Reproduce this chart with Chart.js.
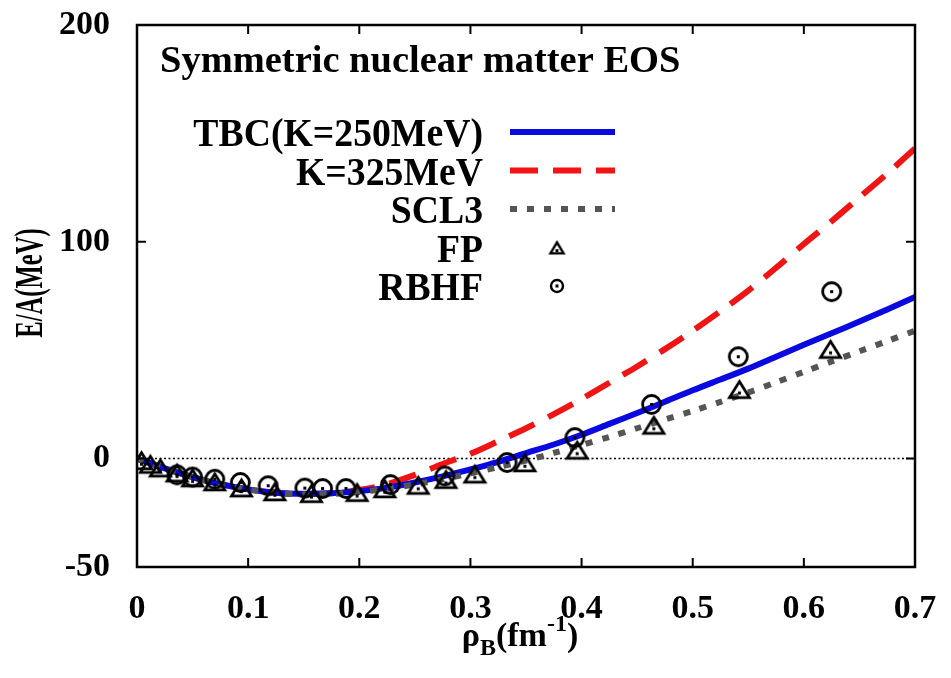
<!DOCTYPE html>
<html>
<head>
<meta charset="utf-8">
<script src="https://cdn.jsdelivr.net/npm/chart.js@4"></script>
<style>
  html, body { margin: 0; padding: 0; background: #fff; }
  canvas { display: block; }
</style>
</head>
<body>
<canvas id="eosChart" width="951" height="678"></canvas>
<script>
// density grid for the curves (fm^-3 really, axis says fm^-1)
const rho = [0, 0.025, 0.05, 0.075, 0.1, 0.125, 0.15, 0.175, 0.2, 0.225, 0.25, 0.275, 0.3, 0.325, 0.35,
  0.375, 0.4, 0.425, 0.45, 0.475, 0.5, 0.525, 0.55, 0.575, 0.6, 0.625, 0.65, 0.675, 0.7];

const tbc250 = [0, -4.5, -8.5, -11.8, -14.2, -15.7, -16.2, -16, -15, -13.4, -11, -8.2, -5, -1.5, 2.5,
  6.5, 11, 16, 21, 26.2, 31.5, 36.5, 41.5, 47, 52.5, 57.8, 63.2, 68.8, 74.5];

const k325 = [0, -4.5, -8.5, -11.8, -14.2, -15.8, -16.4, -16, -14.5, -11.8, -7.5, -2.5, 2.2, 8, 14,
  20.5, 27.5, 35, 42.5, 50.5, 59, 68, 77.5, 88, 99, 109.5, 120.5, 131.5, 143];

const scl3 = [0, -4.5, -8.5, -11.8, -14.3, -15.9, -16.5, -16.3, -15.4, -13.9, -11.9, -9.5, -6.8, -3.9, -0.9,
  2.6, 6.3, 10, 14, 18, 22, 26.2, 30.5, 35.2, 40, 44.8, 49.5, 54.2, 59];

const fpRho = [0.004, 0.012, 0.021, 0.036, 0.05, 0.07, 0.094, 0.124, 0.157, 0.198, 0.223, 0.253,
  0.278, 0.304, 0.349, 0.396, 0.465, 0.542, 0.624];
const fpE = [-0.8, -2.5, -4.2, -6.5, -8.8, -10.6, -13.4, -15.2, -16, -15.5, -13.8, -12.2,
  -9.5, -7, -1.8, 4, 15.5, 32, 50.5];

const rbhfRho = [0.036, 0.05, 0.07, 0.093, 0.118, 0.151, 0.167, 0.188, 0.228, 0.277, 0.333, 0.394,
  0.463, 0.541, 0.625];
const rbhfE = [-7.5, -8.5, -9.5, -11, -12.5, -13.6, -13.8, -13.8, -12, -8, -1.8, 9.7, 25, 47, 77];

const xTicks = [0, 0.1, 0.2, 0.3, 0.4, 0.5, 0.6, 0.7];
const yTicks = [-50, 0, 100, 200];

const SERIF = '"Liberation Serif", "Times New Roman", serif';

function pts(xs, ys) {
  return xs.map((x, i) => ({ x: x, y: ys[i] }));
}

function triangleImg(w, h, lw) {
  const c = document.createElement('canvas');
  c.width = w + lw * 2 + 2;
  c.height = h + lw * 2 + 2;
  const g = c.getContext('2d');
  const cx = c.width / 2, top = lw + 1, bot = top + h;
  g.lineWidth = lw;
  g.lineJoin = 'miter';
  g.strokeStyle = '#000';
  g.beginPath();
  g.moveTo(cx, top);
  g.lineTo(cx + w / 2, bot);
  g.lineTo(cx - w / 2, bot);
  g.closePath();
  g.stroke();
  g.fillStyle = '#000';
  g.fillRect(cx - 1.5, top + h * 0.62, 3, 3);
  return c;
}

function circleImg(d, lw) {
  const c = document.createElement('canvas');
  c.width = d + lw * 2 + 2;
  c.height = c.width;
  const g = c.getContext('2d');
  const m = c.width / 2;
  g.lineWidth = lw;
  g.strokeStyle = '#000';
  g.beginPath();
  g.arc(m, m, d / 2, 0, Math.PI * 2);
  g.stroke();
  g.fillStyle = '#000';
  g.fillRect(m - 1.5, m - 1.5, 3, 3);
  return c;
}

const triBig = triangleImg(20, 16, 2.8);
const circBig = circleImg(18, 2.8);
const triSmall = triangleImg(13, 11, 2.4);
const circSmall = circleImg(12, 2.4);

function txt(ctx, s, x, y, size, align, sx) {
  ctx.save();
  ctx.font = 'bold ' + size + 'px ' + SERIF;
  ctx.textAlign = align;
  ctx.textBaseline = 'alphabetic';
  ctx.fillStyle = '#000';
  ctx.translate(x, y);
  ctx.scale(sx, 1);
  ctx.fillText(s, 0, 0);
  ctx.restore();
}

const decor = {
  id: 'decor',
  beforeDatasetsDraw(chart) {
    const { ctx, chartArea: a, scales } = chart;
    const y0 = scales.y.getPixelForValue(0);
    ctx.save();
    ctx.strokeStyle = '#000';
    ctx.lineWidth = 1.5;
    ctx.setLineDash([2, 2.5]);
    ctx.beginPath();
    ctx.moveTo(a.left, y0);
    ctx.lineTo(a.right, y0);
    ctx.stroke();
    ctx.restore();
  },
  afterDatasetsDraw(chart) {
    const { ctx, chartArea: a, scales } = chart;
    ctx.save();
    // frame + inward ticks
    ctx.strokeStyle = '#000';
    ctx.lineWidth = 2.5;
    ctx.strokeRect(a.left, a.top, a.right - a.left, a.bottom - a.top);
    ctx.lineWidth = 2;
    ctx.beginPath();
    xTicks.forEach(v => {
      const px = scales.x.getPixelForValue(v);
      ctx.moveTo(px, a.bottom); ctx.lineTo(px, a.bottom - 9);
      ctx.moveTo(px, a.top); ctx.lineTo(px, a.top + 9);
    });
    yTicks.forEach(v => {
      const py = scales.y.getPixelForValue(v);
      ctx.moveTo(a.left, py); ctx.lineTo(a.left + 9, py);
      ctx.moveTo(a.right, py); ctx.lineTo(a.right - 9, py);
    });
    ctx.stroke();
    ctx.restore();

    // title inside plot
    txt(ctx, 'Symmetric nuclear matter EOS', 160, 72, 37, 'left', 1.04);

    // key, gnuplot style: right-aligned text, sample on the right
    const textRight = 483, sx0 = 510, sx1 = 615, mx = 557;
    chart.data.datasets.forEach((ds, i) => {
      const base = 146 + i * 38.5;
      txt(ctx, ds.label, textRight, base, 41, 'right', 0.92);
      const sy = base - 14;
      ctx.save();
      if (ds.showLine) {
        ctx.strokeStyle = ds.borderColor;
        ctx.lineWidth = ds.borderWidth;
        ctx.setLineDash(ds.borderDash || []);
        ctx.beginPath();
        ctx.moveTo(sx0, sy);
        ctx.lineTo(sx1, sy);
        ctx.stroke();
      } else {
        const img = ds.legendImg;
        ctx.drawImage(img, mx - img.width / 2, sy - img.height / 2);
      }
      ctx.restore();
    });

    // y axis title, rotated and condensed
    ctx.save();
    ctx.translate(42, 283);
    ctx.rotate(-Math.PI / 2);
    ctx.font = 'bold 41px ' + SERIF;
    ctx.textAlign = 'center';
    ctx.textBaseline = 'alphabetic';
    ctx.fillStyle = '#000';
    ctx.scale(0.6, 1);
    ctx.fillText('E/A(MeV)', 0, 0);
    ctx.restore();

    // x axis title with sub/superscript
    const parts = [
      { s: '\u03c1', size: 34, dy: 0 },
      { s: 'B', size: 24, dy: 9 },
      { s: '(fm', size: 34, dy: 0 },
      { s: '-1', size: 24, dy: -15 },
      { s: ')', size: 34, dy: 0 }
    ];
    ctx.save();
    let total = 0;
    parts.forEach(p => {
      ctx.font = 'bold ' + p.size + 'px ' + SERIF;
      p.w = ctx.measureText(p.s).width;
      total += p.w;
    });
    let x = 520 - total / 2;
    ctx.fillStyle = '#000';
    ctx.textBaseline = 'alphabetic';
    ctx.textAlign = 'left';
    parts.forEach(p => {
      ctx.font = 'bold ' + p.size + 'px ' + SERIF;
      ctx.fillText(p.s, x, 646 + p.dy);
      x += p.w;
    });
    ctx.restore();
  }
};

const ctx = document.getElementById('eosChart').getContext('2d');
new Chart(ctx, {
  type: 'line',
  data: {
    datasets: [
      {
        label: 'TBC(K=250MeV)',
        data: pts(rho, tbc250),
        showLine: true,
        borderColor: '#0a0ae0',
        borderWidth: 6,
        pointRadius: 0,
        tension: 0.3,
        order: 2
      },
      {
        label: 'K=325MeV',
        data: pts(rho, k325),
        showLine: true,
        borderColor: '#f01414',
        borderWidth: 6,
        borderDash: [28, 15],
        pointRadius: 0,
        tension: 0.3,
        order: 3
      },
      {
        label: 'SCL3',
        data: pts(rho, scl3),
        showLine: true,
        borderColor: '#555555',
        borderWidth: 6,
        borderDash: [7, 10],
        pointRadius: 0,
        tension: 0.3,
        order: 1
      },
      {
        label: 'FP',
        data: pts(fpRho, fpE),
        showLine: false,
        pointStyle: triBig,
        legendImg: triSmall,
        pointRadius: 10,
        order: 0
      },
      {
        label: 'RBHF',
        data: pts(rbhfRho, rbhfE),
        showLine: false,
        pointStyle: circBig,
        legendImg: circSmall,
        pointRadius: 10,
        order: 0
      }
    ]
  },
  options: {
    responsive: false,
    animation: false,
    layout: { padding: { top: 25, right: 36, left: 0, bottom: 0 } },
    plugins: { legend: { display: false }, tooltip: { enabled: false } },
    scales: {
      x: {
        type: 'linear',
        min: 0,
        max: 0.7,
        afterBuildTicks(s) { s.ticks = xTicks.map(v => ({ value: v })); },
        afterFit(s) { s.height = 111; s.paddingLeft = 0; s.paddingRight = 0; },
        grid: { display: false, drawTicks: false },
        border: { display: false },
        ticks: {
          padding: 22,
          maxRotation: 0,
          color: '#000',
          font: { family: SERIF, size: 34, weight: 'bold' },
          callback: v => (v === 0 ? '0' : v.toFixed(1))
        }
      },
      y: {
        min: -50,
        max: 200,
        afterBuildTicks(s) { s.ticks = yTicks.map(v => ({ value: v })); },
        afterFit(s) { s.width = 137; s.paddingTop = 0; s.paddingBottom = 0; },
        grid: { display: false, drawTicks: false },
        border: { display: false },
        ticks: {
          padding: 27,
          color: '#000',
          font: { family: SERIF, size: 34, weight: 'bold' },
          callback: v => String(v)
        }
      }
    }
  },
  plugins: [decor]
});
</script>
</body>
</html>
